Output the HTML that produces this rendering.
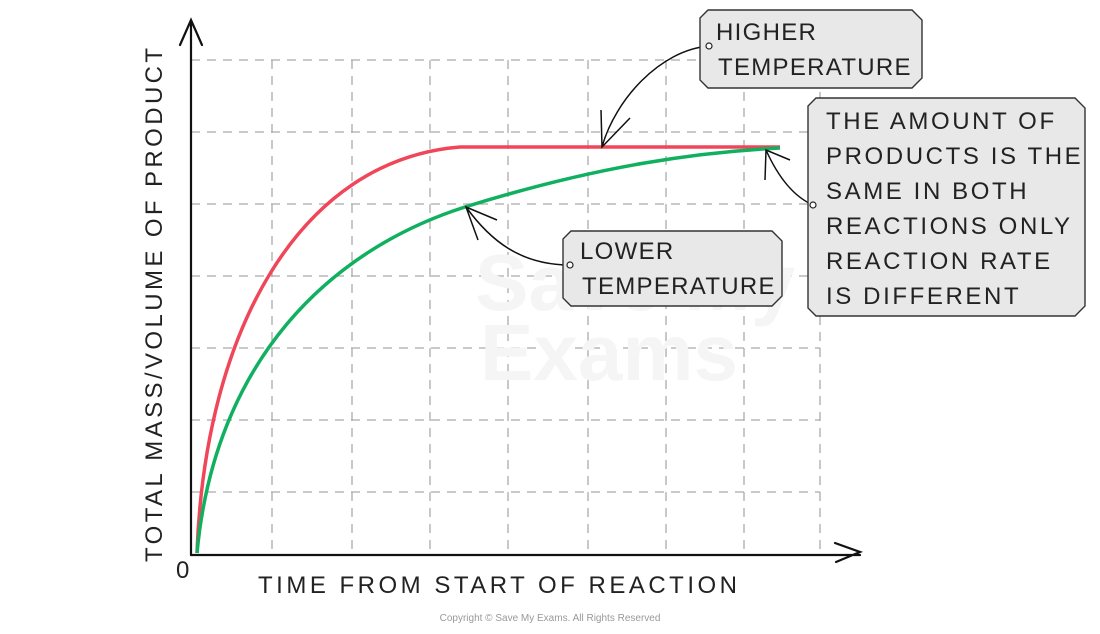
<!DOCTYPE html>
<html><head><style>
body{margin:0;background:#fff;}
svg text{font-family:"Liberation Sans",sans-serif;fill:#222;}
</style></head><body>
<svg width="1100" height="629" viewBox="0 0 1100 629" xmlns="http://www.w3.org/2000/svg">
<g stroke="#aaa" stroke-width="1.3" stroke-dasharray="9,7" fill="none">
<path d="M191 60H820M191 132H820M191 204H820M191 276H820M191 348H820M191 420H820M191 492H820"/>
<path d="M272 60V555M352 60V555M430 60V555M508 60V555M588 60V555M666 60V555M744 60V555M820 60V555"/>
</g>
<text x="480" y="380" font-size="80" font-weight="bold" style="fill:#f5f5f5">Exams</text>
<text x="475" y="310" font-size="80" font-weight="bold" style="fill:#f5f5f5">Save My</text>
<g stroke="#111" stroke-width="2.2" fill="none" stroke-linecap="round">
<path d="M191 555V20M180 45L191 20L202 45"/>
<path d="M191 555H860M835 543L860 552L836 562"/>
</g>
<path d="M197 553C205 330 300 160 460 147L780 147" stroke="#f0465a" stroke-width="3.5" fill="none"/>
<path d="M197 553C215 360 330 250 465 207C600 165 700 152 780 148" stroke="#10b060" stroke-width="3.5" fill="none"/>
<g stroke="#111" stroke-width="1.5" fill="none">
<path d="M709 46C660 50 615 100 602 147M601 110L602 147L630 118"/>
<path d="M570 265C520 265 490 240 466 207M478 240L466 207L497 220"/>
<path d="M813 205C790 195 775 170 766 150M765 180L766 150L790 160"/>
</g>
<g fill="#e8e8e8" stroke="#333" stroke-width="1.4">
<path d="M708 10H912L922 20V78L912 88H708L700 80V18Z"/>
<path d="M571 231H772L782 241V296L772 306H571L563 298V239Z"/>
<path d="M816 98H1075L1085 108V306L1075 316H816L808 308V106Z"/>
</g>
<g fill="#fff" stroke="#222" stroke-width="1.2">
<circle cx="709" cy="46" r="3"/><circle cx="570" cy="265" r="3"/><circle cx="813" cy="205" r="3"/>
</g>
<g font-size="24" letter-spacing="1.3">
<text x="716" y="40">HIGHER</text>
<text x="718" y="75">TEMPERATURE</text>
<text x="580" y="259">LOWER</text>
<text x="582" y="294">TEMPERATURE</text>
<text x="826" y="129" letter-spacing="2.6">THE AMOUNT OF</text>
<text x="826" y="164" letter-spacing="2.6">PRODUCTS IS THE</text>
<text x="826" y="199" letter-spacing="2.6">SAME IN BOTH</text>
<text x="826" y="234" letter-spacing="2.6">REACTIONS ONLY</text>
<text x="826" y="269" letter-spacing="2.6">REACTION RATE</text>
<text x="826" y="304" letter-spacing="2.6">IS DIFFERENT</text>
<text x="258" y="593" letter-spacing="3.5">TIME FROM START OF REACTION</text>
<text x="176" y="578">0</text>
<text transform="translate(162,562) rotate(-90)" letter-spacing="3.4">TOTAL MASS/VOLUME OF PRODUCT</text>
</g>
<text x="550" y="621" font-size="10" text-anchor="middle" style="fill:#999">Copyright © Save My Exams. All Rights Reserved</text>
</svg>
</body></html>
